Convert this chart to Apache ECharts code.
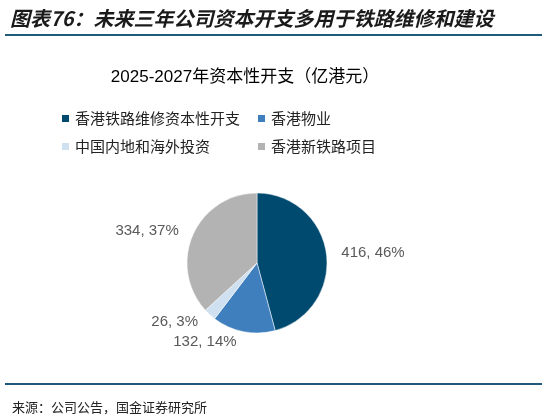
<!DOCTYPE html>
<html>
<head>
<meta charset="utf-8">
<script src="https://cdn.jsdelivr.net/npm/echarts@6/dist/echarts.min.js"></script>
<style>
  html, body { margin: 0; padding: 0; background: #fff; }
  #chart { width: 547px; height: 416px; }
</style>
</head>
<body>
<div id="chart"></div>
<script>
const categories = ['香港铁路维修资本性开支', '香港物业', '中国内地和海外投资', '香港新铁路项目'];
const values = [416, 132, 26, 334];
const colors = ['#004a70', '#3f7fbe', '#cfe0f1', '#b3b3b3'];

const cjk = '"Noto Sans CJK SC", "Liberation Sans", sans-serif';

const chart = echarts.init(document.getElementById('chart'));

chart.setOption({
  animation: false,
  backgroundColor: '#fff',
  color: colors,
  title: [
    {
      text: '图表76：未来三年公司资本开支多用于铁路维修和建设',
      left: 5, top: 3,
      textStyle: { fontFamily: cjk, fontSize: 20, fontWeight: 'bold', fontStyle: 'italic', color: '#1a1a1a' }
    },
    {
      text: '2025-2027年资本性开支（亿港元）',
      left: 240, top: 64, textAlign: 'center',
      textStyle: { fontFamily: '"Liberation Sans", "Noto Sans CJK SC", sans-serif', fontSize: 17, fontWeight: 'normal', color: '#000' }
    },
    {
      text: '来源：公司公告，国金证券研究所',
      left: 7, top: 396,
      textStyle: { fontFamily: cjk, fontSize: 13, fontWeight: 'normal', color: '#222' }
    }
  ],
  graphic: [
    { type: 'rect', shape: { x: 5, y: 34, width: 537, height: 2 }, style: { fill: '#1f5a7a' } },
    { type: 'rect', shape: { x: 5, y: 383, width: 537, height: 2 }, style: { fill: '#1f5a7a' } }
  ],
  legend: [
    {
      data: [categories[0], categories[2]],
      orient: 'vertical', left: 55, top: 106,
      itemWidth: 9, itemHeight: 9, itemGap: 13, icon: 'rect',
      textStyle: { fontFamily: cjk, fontSize: 15, color: '#222' }
    },
    {
      data: [categories[1], categories[3]],
      orient: 'vertical', left: 251, top: 106,
      itemWidth: 9, itemHeight: 9, itemGap: 13, icon: 'rect',
      textStyle: { fontFamily: cjk, fontSize: 15, color: '#222' }
    }
  ],
  series: [{
    type: 'pie',
    center: [257, 263],
    radius: 70,
    startAngle: 90,
    clockwise: true,
    percentPrecision: 0,
    data: categories.map((name, i) => ({ name: name, value: values[i] })),
    label: {
      show: true,
      position: 'outside',
      formatter: '{c}, {d}%',
      fontFamily: '"Liberation Sans", sans-serif',
      fontSize: 15,
      color: '#595959'
    },
    labelLine: { show: false, length: 10, length2: 0 },
    itemStyle: { borderColor: '#fff', borderWidth: 0.5 },
    emphasis: { disabled: true }
  }]
});
</script>
</body>
</html>
